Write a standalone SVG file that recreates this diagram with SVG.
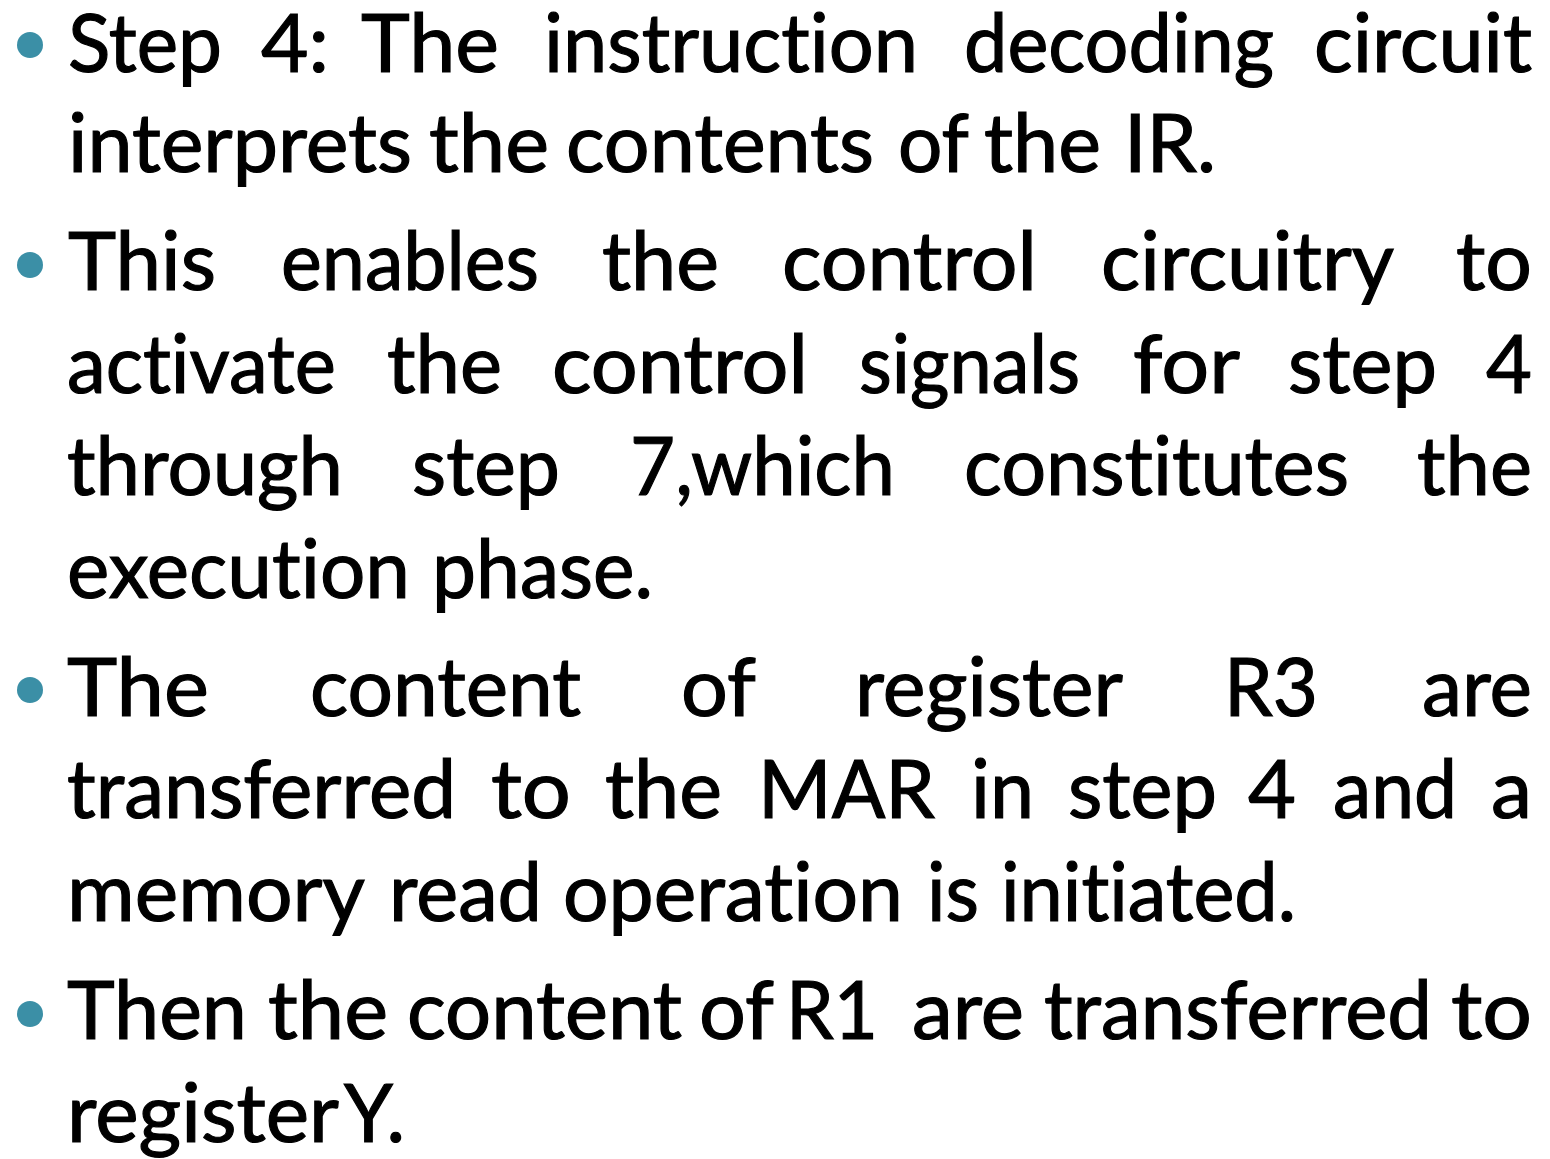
<svg xmlns="http://www.w3.org/2000/svg" width="1550" height="1159" viewBox="0 0 1550 1159">
  <style>
    .w { font-family: "Lato", "Open Sans", "Liberation Sans", sans-serif; font-size: 82px; fill: #000; stroke: #000; stroke-width: 1.2px; font-variant-ligatures: none; font-feature-settings: "liga" 0, "clig" 0; }
    .dot { fill: #3b8fa6; }
  </style>
  <rect width="1550" height="1159" fill="#ffffff"/>

  <!-- bullet 1 -->
  <g id="bullet1">
    <circle class="dot" cx="30" cy="45" r="13"/>
    <text class="w" lengthAdjust="spacingAndGlyphs" y="72" x="68" textLength="154">Step</text>
    <text class="w" lengthAdjust="spacingAndGlyphs" y="72" x="261" textLength="68">4:</text>
    <text class="w" lengthAdjust="spacingAndGlyphs" y="72" x="361" textLength="138">The</text>
    <text class="w" lengthAdjust="spacingAndGlyphs" y="72" x="544" textLength="374">instruction</text>
    <text class="w" lengthAdjust="spacingAndGlyphs" y="72" x="964" textLength="310">decoding</text>
    <text class="w" lengthAdjust="spacingAndGlyphs" y="72" x="1314" textLength="218">circuit</text>

    <text class="w" lengthAdjust="spacingAndGlyphs" y="172" x="68" textLength="344">interprets</text>
    <text class="w" lengthAdjust="spacingAndGlyphs" y="172" x="429" textLength="120">the</text>
    <text class="w" lengthAdjust="spacingAndGlyphs" y="172" x="566" textLength="308">contents</text>
    <text class="w" lengthAdjust="spacingAndGlyphs" y="172" x="898" textLength="71">of</text>
    <text class="w" lengthAdjust="spacingAndGlyphs" y="172" x="984" textLength="117">the</text>
    <text class="w" lengthAdjust="spacingAndGlyphs" y="172" x="1124" textLength="92">IR.</text>
  </g>

  <!-- bullet 2 -->
  <g id="bullet2">
    <circle class="dot" cx="30" cy="265" r="13"/>
    <text class="w" lengthAdjust="spacingAndGlyphs" y="290" x="68" textLength="148">This</text>
    <text class="w" lengthAdjust="spacingAndGlyphs" y="290" x="281" textLength="258">enables</text>
    <text class="w" lengthAdjust="spacingAndGlyphs" y="290" x="602" textLength="117">the</text>
    <text class="w" lengthAdjust="spacingAndGlyphs" y="290" x="782" textLength="255">control</text>
    <text class="w" lengthAdjust="spacingAndGlyphs" y="290" x="1101" textLength="293">circuitry</text>
    <text class="w" lengthAdjust="spacingAndGlyphs" y="290" x="1456" textLength="76">to</text>

    <text class="w" lengthAdjust="spacingAndGlyphs" y="393" x="67" textLength="269">activate</text>
    <text class="w" lengthAdjust="spacingAndGlyphs" y="393" x="387" textLength="115">the</text>
    <text class="w" lengthAdjust="spacingAndGlyphs" y="393" x="552" textLength="256">control</text>
    <text class="w" lengthAdjust="spacingAndGlyphs" y="393" x="859" textLength="221">signals</text>
    <text class="w" lengthAdjust="spacingAndGlyphs" y="393" x="1133" textLength="107">for</text>
    <text class="w" lengthAdjust="spacingAndGlyphs" y="393" x="1288" textLength="149">step</text>
    <text class="w" lengthAdjust="spacingAndGlyphs" y="393" x="1486" textLength="46">4</text>

    <text class="w" lengthAdjust="spacingAndGlyphs" y="495" x="67" textLength="276">through</text>
    <text class="w" lengthAdjust="spacingAndGlyphs" y="495" x="412" textLength="148">step</text>
    <text class="w" lengthAdjust="spacingAndGlyphs" y="495" x="630" textLength="265">7,which</text>
    <text class="w" lengthAdjust="spacingAndGlyphs" y="495" x="964" textLength="385">constitutes</text>
    <text class="w" lengthAdjust="spacingAndGlyphs" y="495" x="1417" textLength="115">the</text>

    <text class="w" lengthAdjust="spacingAndGlyphs" y="598" x="67" textLength="343">execution</text>
    <text class="w" lengthAdjust="spacingAndGlyphs" y="598" x="432" textLength="221">phase.</text>
  </g>

  <!-- bullet 3 -->
  <g id="bullet3">
    <circle class="dot" cx="30" cy="690" r="13"/>
    <text class="w" lengthAdjust="spacingAndGlyphs" y="716" x="67" textLength="142">The</text>
    <text class="w" lengthAdjust="spacingAndGlyphs" y="716" x="310" textLength="271">content</text>
    <text class="w" lengthAdjust="spacingAndGlyphs" y="716" x="681" textLength="75">of</text>
    <text class="w" lengthAdjust="spacingAndGlyphs" y="716" x="855" textLength="268">register</text>
    <text class="w" lengthAdjust="spacingAndGlyphs" y="716" x="1224" textLength="94">R3</text>
    <text class="w" lengthAdjust="spacingAndGlyphs" y="716" x="1422" textLength="110">are</text>

    <text class="w" lengthAdjust="spacingAndGlyphs" y="818" x="67" textLength="389">transferred</text>
    <text class="w" lengthAdjust="spacingAndGlyphs" y="818" x="491" textLength="80">to</text>
    <text class="w" lengthAdjust="spacingAndGlyphs" y="818" x="605" textLength="117">the</text>
    <text class="w" lengthAdjust="spacingAndGlyphs" y="818" x="758" textLength="177">MAR</text>
    <text class="w" lengthAdjust="spacingAndGlyphs" y="818" x="971" textLength="63">in</text>
    <text class="w" lengthAdjust="spacingAndGlyphs" y="818" x="1068" textLength="149">step</text>
    <text class="w" lengthAdjust="spacingAndGlyphs" y="818" x="1248" textLength="48">4</text>
    <text class="w" lengthAdjust="spacingAndGlyphs" y="818" x="1333" textLength="124">and</text>
    <text class="w" lengthAdjust="spacingAndGlyphs" y="818" x="1491" textLength="41">a</text>

    <text class="w" lengthAdjust="spacingAndGlyphs" y="921" x="67" textLength="298">memory</text>
    <text class="w" lengthAdjust="spacingAndGlyphs" y="921" x="389" textLength="153">read</text>
    <text class="w" lengthAdjust="spacingAndGlyphs" y="921" x="563" textLength="340">operation</text>
    <text class="w" lengthAdjust="spacingAndGlyphs" y="921" x="927" textLength="52">is</text>
    <text class="w" lengthAdjust="spacingAndGlyphs" y="921" x="1001" textLength="295">initiated.</text>
  </g>

  <!-- bullet 4 -->
  <g id="bullet4">
    <circle class="dot" cx="30" cy="1014" r="13"/>
    <text class="w" lengthAdjust="spacingAndGlyphs" y="1039" x="67" textLength="180">Then</text>
    <text class="w" lengthAdjust="spacingAndGlyphs" y="1039" x="268" textLength="120">the</text>
    <text class="w" lengthAdjust="spacingAndGlyphs" y="1039" x="407" textLength="275">content</text>
    <text class="w" lengthAdjust="spacingAndGlyphs" y="1039" x="699" textLength="75">of</text>
    <text class="w" lengthAdjust="spacingAndGlyphs" y="1039" x="786" textLength="92">R1</text>
    <text class="w" lengthAdjust="spacingAndGlyphs" y="1039" x="912" textLength="112">are</text>
    <text class="w" lengthAdjust="spacingAndGlyphs" y="1039" x="1044" textLength="388">transferred</text>
    <text class="w" lengthAdjust="spacingAndGlyphs" y="1039" x="1451" textLength="81">to</text>

    <text class="w" lengthAdjust="spacingAndGlyphs" y="1142" x="67" textLength="272">register</text>
    <text class="w" lengthAdjust="spacingAndGlyphs" y="1142" x="344" textLength="61">Y.</text>
  </g>
</svg>
